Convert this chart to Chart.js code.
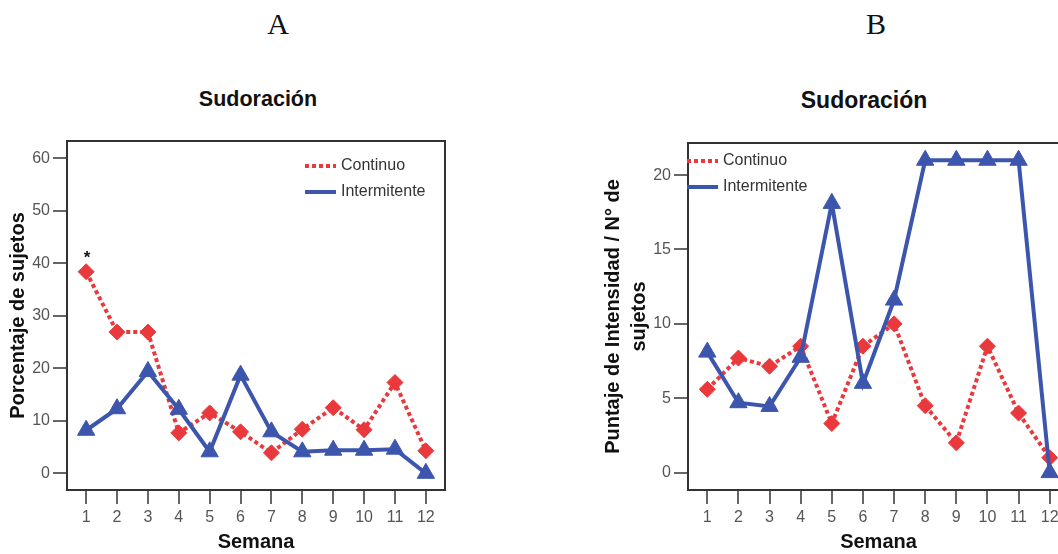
<!DOCTYPE html>
<html>
<head>
<meta charset="utf-8">
<title>Sudoración</title>
<script src="https://cdn.jsdelivr.net/npm/chart.js@4.4.0/dist/chart.umd.min.js"></script>
<style>
html, body { margin:0; padding:0; width:1058px; height:554px; overflow:hidden; background:#fff; }
.panel { position:absolute; top:9px; font-family:"Liberation Serif", "Times New Roman", serif; font-size:30px; line-height:30px; color:#111; transform:translateX(-50%); }
.ttl { position:absolute; font-family:"Liberation Sans", Arial, sans-serif; font-weight:bold; color:#111; white-space:nowrap; transform:translateX(-50%); }
canvas { position:absolute; top:0; }
</style>
</head>
<body>
<div class="panel" style="left:278px">A</div>
<div class="panel" style="left:876px">B</div>
<div class="ttl" style="left:258px;top:89px;font-size:21.5px;line-height:21.5px">Sudoración</div>
<div class="ttl" style="left:864px;top:89px;font-size:23px;line-height:23px">Sudoración</div>
<canvas id="chartA" width="470" height="554" style="left:0;width:470px;height:554px"></canvas>
<canvas id="chartB" width="480" height="554" style="left:600px;width:480px;height:554px"></canvas>
<script>
// semanas
const weeks = [1, 2, 3, 4, 5, 6, 7, 8, 9, 10, 11, 12];

// A: porcentaje de sujetos
const continuoA = [38.4, 26.9, 26.9, 7.7, 11.5, 7.9, 3.9, 8.4, 12.5, 8.3, 17.3, 4.3];
const intermitenteA = [8.2, 12.3, 19.4, 12.2, 4.1, 18.7, 7.9, 4.1, 4.4, 4.4, 4.6, 0];
const notasA = ['*', '', '', '', '', '', '', '', '', '', '', ''];
const yTicksA = [0, 10, 20, 30, 40, 50, 60];

// B: puntaje de intensidad / n de sujetos
const continuoB = [5.6, 7.7, 7.15, 8.5, 3.3, 8.5, 10, 4.5, 2, 8.5, 4, 1];
const intermitenteB = [8.1, 4.7, 4.45, 7.75, 18.1, 6, 11.6, 21, 21, 21, 21, 0];
const yTicksB = [0, 5, 10, 15, 20];

const ROJO = '#e9393d';
const AZUL = '#3d56ad';

Chart.defaults.font.family = '"Liberation Sans", Arial, sans-serif';
Chart.defaults.animation = false;

// marco completo alrededor del area
const marco = {
    id: 'marco',
    beforeDatasetsDraw(chart) {
        const a = chart.chartArea, ctx = chart.ctx;
        ctx.save();
        ctx.strokeStyle = '#333';
        ctx.lineWidth = 2;
        ctx.strokeRect(a.left, a.top, a.right - a.left, a.bottom - a.top);
        ctx.restore();
    }
};

// leyenda dentro del area
const leyenda = {
    id: 'leyenda',
    afterDatasetsDraw(chart, args, opts) {
        const a = chart.chartArea, ctx = chart.ctx;
        ctx.save();
        ctx.font = '16px "Liberation Sans", Arial, sans-serif';
        ctx.textBaseline = 'middle';
        chart.data.datasets.forEach(function(ds, i) {
            const x = a.left + opts.x;
            const y = a.top + opts.y + i * 26;
            ctx.strokeStyle = ds.borderColor;
            ctx.lineWidth = ds.borderWidth;
            ctx.setLineDash(ds.borderDash || []);
            ctx.beginPath();
            ctx.moveTo(x, y);
            ctx.lineTo(x + 31, y);
            ctx.stroke();
            ctx.setLineDash([]);
            ctx.fillStyle = '#333';
            ctx.fillText(ds.label, x + 36, y);
        });
        ctx.restore();
    }
};

// asterisco sobre el punto
const notas = {
    id: 'notas',
    afterDatasetsDraw(chart, args, opts) {
        if (!opts.text) return;
        const ctx = chart.ctx, xs = chart.scales.x, ys = chart.scales.y;
        const data = chart.data.datasets[0].data;
        ctx.save();
        ctx.font = 'bold 17px "Liberation Sans", Arial, sans-serif';
        ctx.fillStyle = '#111';
        ctx.textAlign = 'center';
        ctx.textBaseline = 'alphabetic';
        opts.text.forEach(function(t, i) {
            if (!t) return;
            ctx.fillText(t, xs.getPixelForValue(data[i].x) + 1, ys.getPixelForValue(data[i].y) - 9);
        });
        ctx.restore();
    }
};

function puntos(vals) {
    return weeks.map(function(w, i) { return { x: w, y: vals[i] }; });
}

function crearGrafico(id, cont, inter, yTicks, yMin, yMax, yTitulo, yAncho, pad, leg, texto) {
    const ctx = document.getElementById(id).getContext('2d');
    return new Chart(ctx, {
        type: 'line',
        data: {
            datasets: [{
                label: 'Continuo',
                data: puntos(cont),
                order: 1,
                borderColor: ROJO,
                backgroundColor: ROJO,
                borderWidth: 4,
                borderDash: [4, 3],
                pointStyle: 'rectRot',
                pointRadius: 8,
                pointBorderWidth: 1,
                tension: 0
            }, {
                label: 'Intermitente',
                data: puntos(inter),
                order: 0,
                borderColor: AZUL,
                backgroundColor: AZUL,
                borderWidth: 4,
                pointStyle: 'triangle',
                pointRadius: 10,
                pointBorderWidth: 1,
                tension: 0
            }]
        },
        options: {
            responsive: false,
            layout: { padding: pad },
            plugins: {
                legend: { display: false },
                tooltip: { enabled: false },
                leyenda: leg,
                notas: { text: texto }
            },
            scales: {
                x: {
                    type: 'linear',
                    min: 0.38,
                    max: 12.62,
                    afterBuildTicks: function(s) { s.ticks = weeks.map(function(v) { return { value: v }; }); },
                    afterFit: function(s) { s.height = 64; },
                    border: { display: false },
                    grid: { drawOnChartArea: false, tickLength: 14, color: '#666', lineWidth: 2 },
                    ticks: { padding: 4, color: '#555', font: { size: 16 }, maxRotation: 0, autoSkip: false },
                    title: { display: true, text: 'Semana', color: '#111', font: { size: 20, weight: 'bold' }, padding: 0 }
                },
                y: {
                    min: yMin,
                    max: yMax,
                    afterBuildTicks: function(s) { s.ticks = yTicks.map(function(v) { return { value: v }; }); },
                    afterFit: function(s) { s.width = yAncho; },
                    border: { display: false },
                    grid: { drawOnChartArea: false, tickLength: 14, color: '#666', lineWidth: 2 },
                    ticks: { padding: 3, color: '#555', font: { size: 16 } },
                    title: { display: true, text: yTitulo.text, color: '#111', font: { size: 20, weight: 'bold', lineHeight: yTitulo.lh }, padding: { top: yTitulo.pad, bottom: 0 } }
                }
            }
        },
        plugins: [marco, leyenda, notas]
    });
}

crearGrafico('chartA', continuoA, intermitenteA, yTicksA, -3.18, 63.3,
    { text: 'Porcentaje de sujetos', lh: 1.2, pad: 6 }, 67,
    { top: 141, right: 25, left: 0, bottom: 0 }, { x: 238, y: 25 }, notasA);

crearGrafico('chartB', continuoB, intermitenteB, yTicksB, -1.17, 22.16,
    { text: ['Puntaje de Intensidad / N° de', 'sujetos'], lh: 1.3, pad: 0 }, 88,
    { top: 143, right: 9, left: 0, bottom: 0 }, { x: -1, y: 18 }, null);
</script>
</body>
</html>
